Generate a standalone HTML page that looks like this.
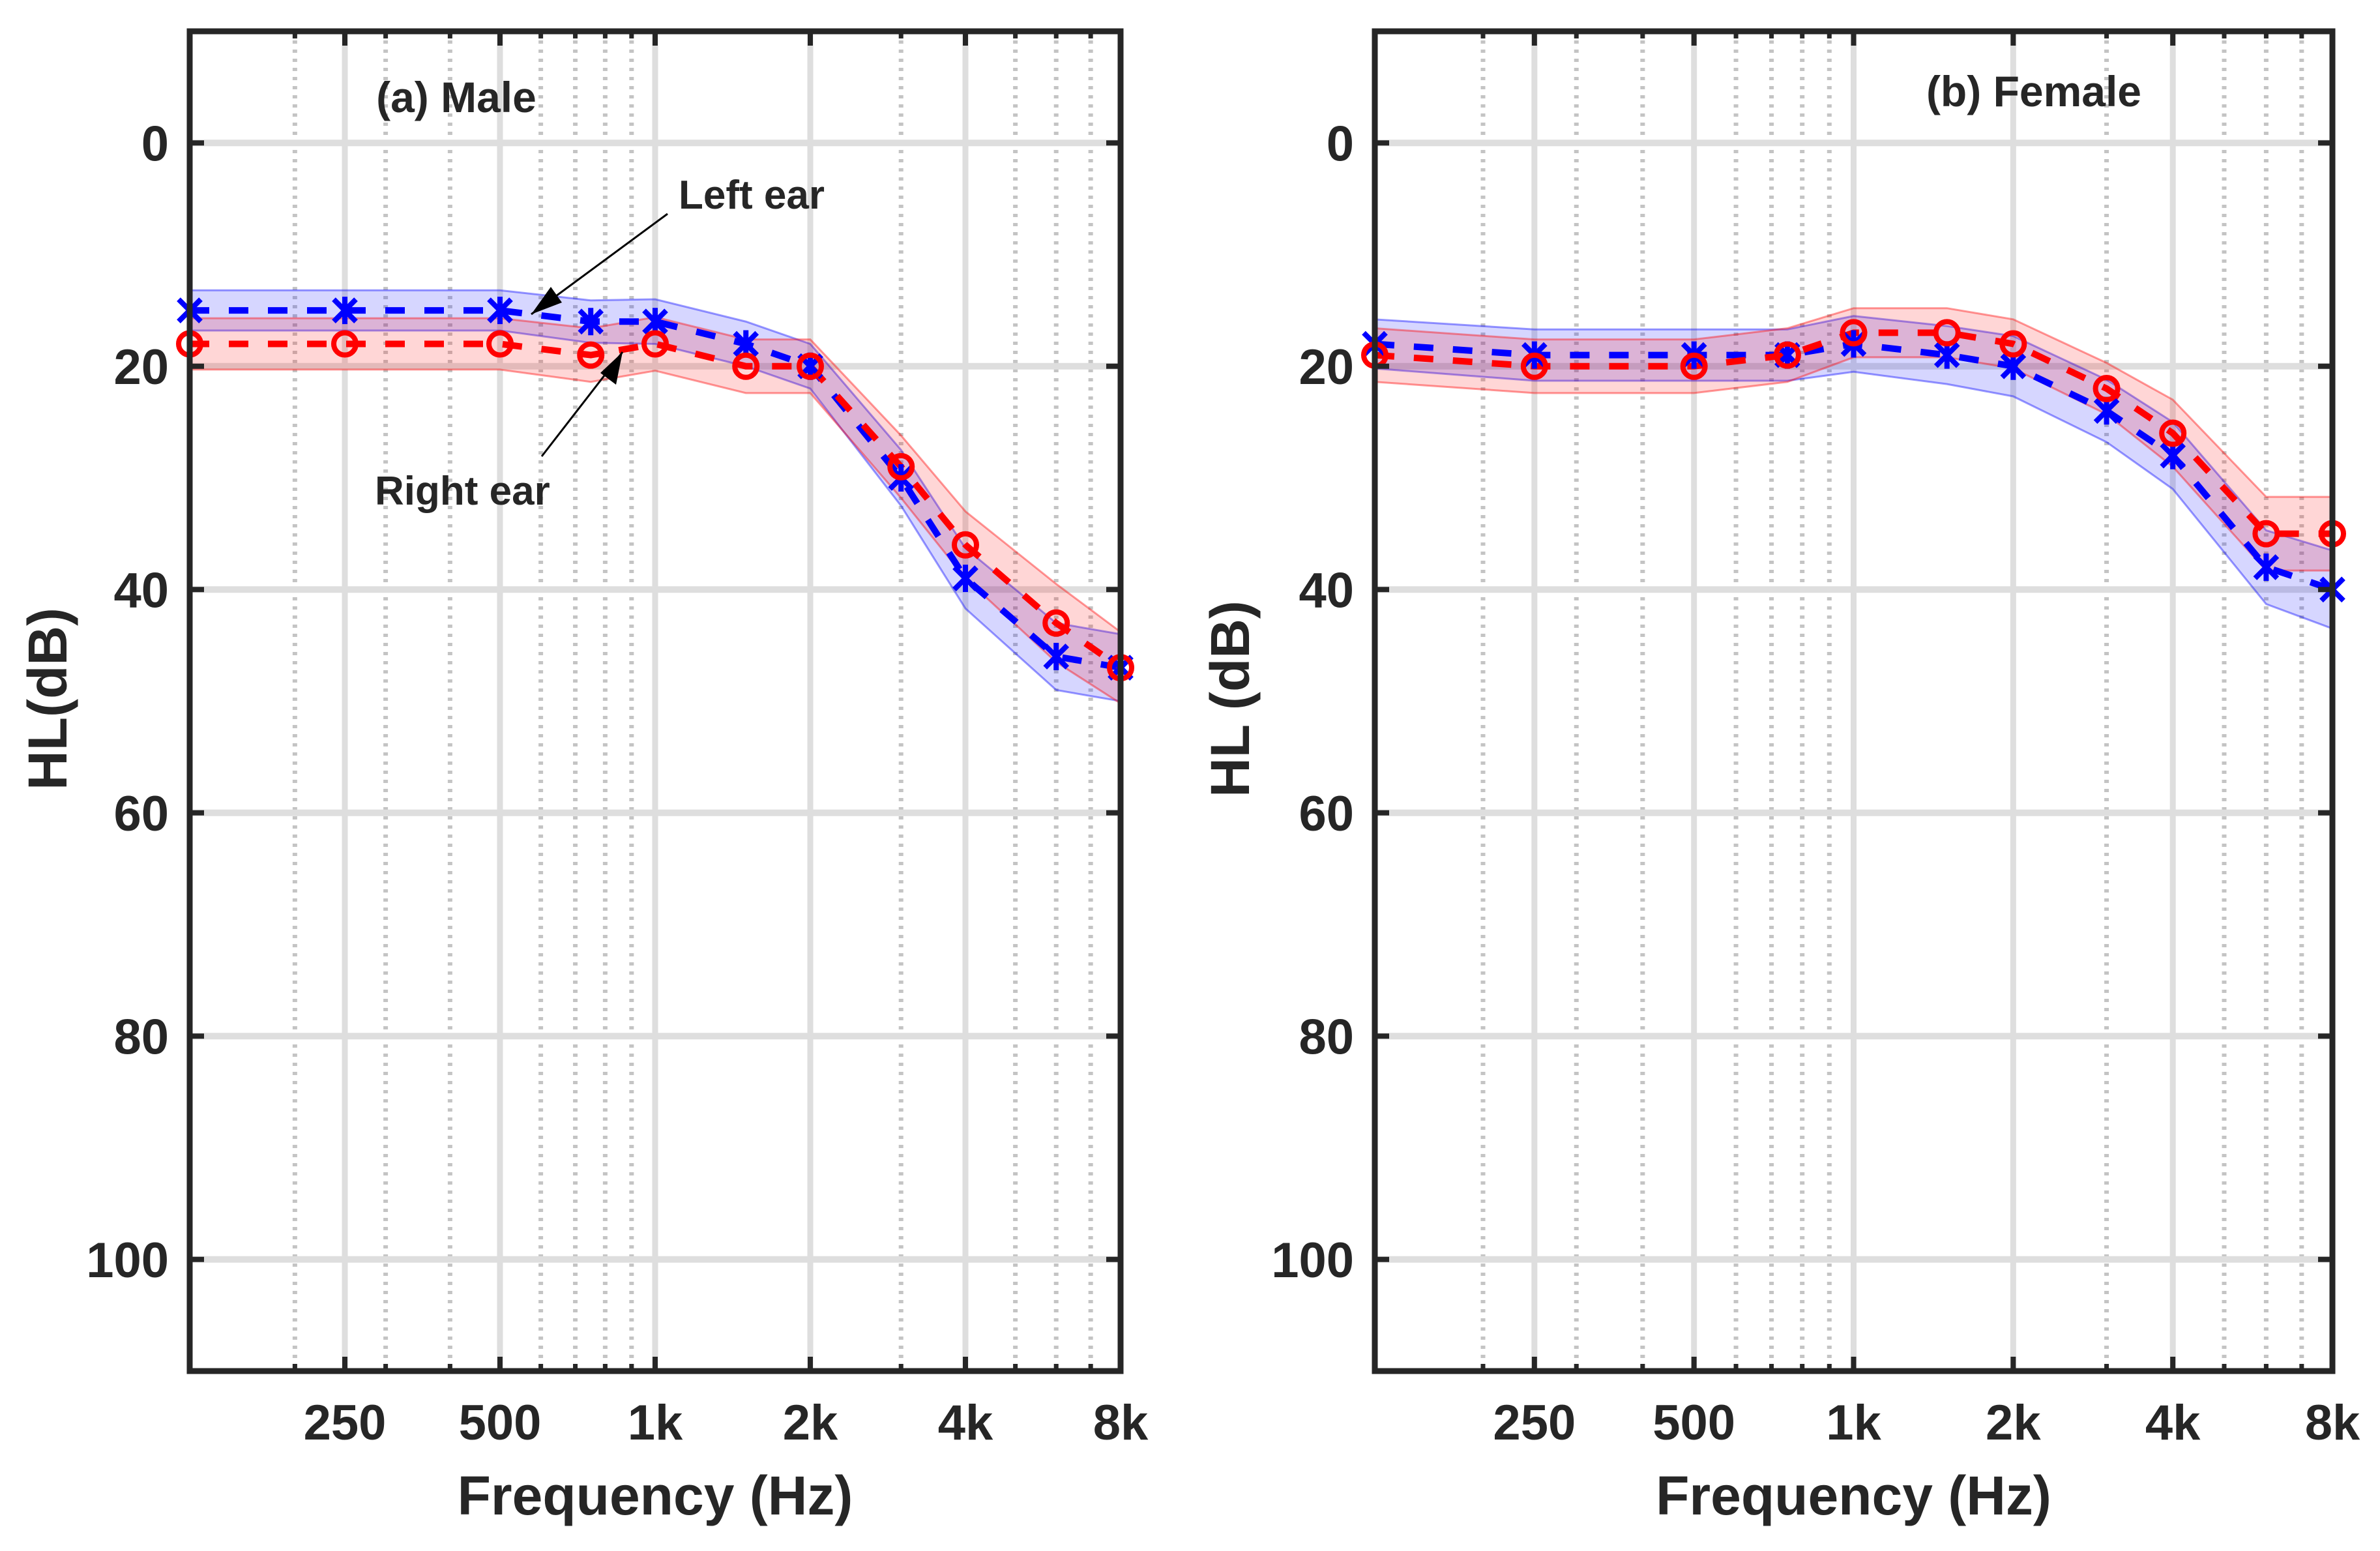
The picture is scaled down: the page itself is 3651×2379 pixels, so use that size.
<!DOCTYPE html>
<html><head><meta charset="utf-8"><style>
html,body{margin:0;padding:0;background:#fff;}
svg{display:block;}
text{font-family:"Liberation Sans",Arial,sans-serif;font-weight:bold;fill:#262626;}
</style></head><body>
<svg id="fig" width="3651" height="2379" viewBox="0 0 3651 2379" xmlns="http://www.w3.org/2000/svg"></svg>
<script>
// ---- data ----
const freqs = [125,250,500,750,1000,1500,2000,3000,4000,6000,8000];
const xTickVals = [250,500,1000,2000,4000,8000];
const xTickLabels = ["250","500","1k","2k","4k","8k"];
const minorVals = [200,300,400,600,700,800,900,3000,5000,6000,7000];
const yTickVals = [0,20,40,60,80,100];
const yTickLabels = ["0","20","40","60","80","100"];

const maleLeft   = [15,15,15,16,16,18,20,30,39,46,47];
const maleLeftSd = [1.8,1.8,1.8,1.9,2,2,2,2.5,2.7,3,3];
const maleRight  = [18,18,18,19,18,20,20,29,36,43,47];
const maleRightSd= [2.3,2.3,2.3,2.4,2.4,2.4,2.4,2.8,3,3.5,3.2];

const femLeft    = [18,19,19,19,18,19,20,24,28,38,40];
const femLeftSd  = [2.2,2.3,2.3,2.3,2.5,2.6,2.7,2.8,3,3.3,3.5];
const femRight   = [19,20,20,19,17,17,18,22,26,35,35];
const femRightSd = [2.4,2.4,2.4,2.4,2.2,2.2,2.2,2.3,3,3.3,3.3];

const NS="http://www.w3.org/2000/svg";
const svg=document.getElementById('fig');
function el(tag,attrs,parent){const e=document.createElementNS(NS,tag);for(const k in attrs)e.setAttribute(k,attrs[k]);(parent||svg).appendChild(e);return e;}

function panel(cfg){
  const g=el('g',{});
  
  
  const L=cfg.left,R=cfg.right,T=48,B=2103;
  const xs=f=>L+(R-L)*Math.log2(f/125)/6;
  const ys=v=>T+(B-T)*(v+10)/120;
  minorVals.forEach(f=>{
    const l=el('line',{x1:xs(f),x2:xs(f),y1:T,y2:B,stroke:'#c4c4c4','stroke-width':7,'stroke-dasharray':'5 9'},g);
    
    
  });
  xTickVals.forEach(f=>{
    const l=el('line',{x1:xs(f),x2:xs(f),y1:T,y2:B,stroke:'#dedede','stroke-width':9},g);
    
    
  });
  yTickVals.forEach(v=>{
    const l=el('line',{x1:L,x2:R,y1:ys(v),y2:ys(v),stroke:'#dedede','stroke-width':10},g);
    
    
  });
  function band(mean,sd,fill,stroke,name){
    const up=mean.map((m,i)=>xs(freqs[i])+','+ys(m-sd[i]));
    const lo=mean.map((m,i)=>xs(freqs[i])+','+ys(m+sd[i])).reverse();
    const p=el('polygon',{points:up.concat(lo).join(' '),fill:fill,stroke:stroke,'stroke-width':3},g);
    
    
  }
  band(cfg.left_,cfg.leftSd,'rgba(0,0,255,0.16)','rgba(0,0,255,0.4)','left-ear-band');
  band(cfg.right_,cfg.rightSd,'rgba(255,0,0,0.16)','rgba(255,0,0,0.4)','right-ear-band');
  function line(mean,color,name){
    const p=el('polyline',{points:mean.map((m,i)=>xs(freqs[i])+','+ys(m)).join(' '),fill:'none',stroke:color,'stroke-width':10,'stroke-dasharray':'30 30'},g);
    
    
  }
  line(cfg.left_,'#0000ff','left-ear-line');
  line(cfg.right_,'#ff0000','right-ear-line');
  cfg.left_.forEach((m,i)=>{
    const x=xs(freqs[i]),y=ys(m),r=17;
    const p=el('path',{d:`M${x-r},${y-r}L${x+r},${y+r}M${x-r},${y+r}L${x+r},${y-r}M${x},${y-r-4}L${x},${y+r+4}`,stroke:'#0000ff','stroke-width':8,fill:'none'},g);
    
    
  });
  cfg.right_.forEach((m,i)=>{
    const c=el('circle',{cx:xs(freqs[i]),cy:ys(m),r:17,fill:'none',stroke:'#ff0000','stroke-width':8},g);
    
    
  });
  minorVals.forEach(f=>{
    el('line',{x1:xs(f),x2:xs(f),y1:B,y2:B-11,stroke:'#262626','stroke-width':7},g);
    el('line',{x1:xs(f),x2:xs(f),y1:T,y2:T+11,stroke:'#262626','stroke-width':7},g);
  });
  xTickVals.forEach((f,i)=>{
    el('line',{x1:xs(f),x2:xs(f),y1:B,y2:B-22,stroke:'#262626','stroke-width':8},g);
    el('line',{x1:xs(f),x2:xs(f),y1:T,y2:T+22,stroke:'#262626','stroke-width':8},g);
    const t=el('text',{x:xs(f),y:2208,'font-size':76,'text-anchor':'middle'},g);
    t.textContent=xTickLabels[i];
    
    
  });
  yTickVals.forEach((v,i)=>{
    el('line',{x1:L,x2:L+22,y1:ys(v),y2:ys(v),stroke:'#262626','stroke-width':8},g);
    el('line',{x1:R,x2:R-22,y1:ys(v),y2:ys(v),stroke:'#262626','stroke-width':8},g);
    const t=el('text',{x:L-32,y:ys(v)+27,'font-size':76,'text-anchor':'end'},g);
    t.textContent=yTickLabels[i];
    
    
  });
  const box=el('rect',{x:L,y:T,width:R-L,height:B-T,fill:'none',stroke:'#262626','stroke-width':9},g);
  
  
  const xl=el('text',{x:(L+R)/2,y:2323,'font-size':84,'text-anchor':'middle'},g);
  xl.textContent='Frequency (Hz)';
  
  
  const yl=el('text',{x:cfg.ylx,y:1072,'font-size':84,'text-anchor':'middle',transform:`rotate(-90 ${cfg.ylx} 1072)`},g);
  yl.textContent=cfg.ylabel;
  
  
  const tt=el('text',{x:cfg.tx,y:cfg.ty,'font-size':66,'text-anchor':'middle'},g);
  tt.textContent=cfg.title;
  
  
}
panel({name:'male-panel',left:291,right:1719,left_:maleLeft,leftSd:maleLeftSd,right_:maleRight,rightSd:maleRightSd,ylabel:'HL(dB)',ylx:102,title:'(a) Male',tx:700,ty:172});
panel({name:'female-panel',left:2109,right:3578,left_:femLeft,leftSd:femLeftSd,right_:femRight,rightSd:femRightSd,ylabel:'HL (dB)',ylx:1916,title:'(b) Female',tx:3120,ty:163});

const a1=el('line',{x1:1024,y1:328,x2:815,y2:482,stroke:'#000','stroke-width':3});


const h1=el('path',{d:'M815,482 L845,440 L862,464 Z',fill:'#000'});


const a2=el('line',{x1:831,y1:700,x2:955,y2:540,stroke:'#000','stroke-width':3});


const h2=el('path',{d:'M955,540 L945,590 L921,572 Z',fill:'#000'});


const t1=el('text',{x:1041,y:320,'font-size':62});
t1.textContent='Left ear';


const t2=el('text',{x:575,y:774,'font-size':62});
t2.textContent='Right ear';


</script>
</body></html>
